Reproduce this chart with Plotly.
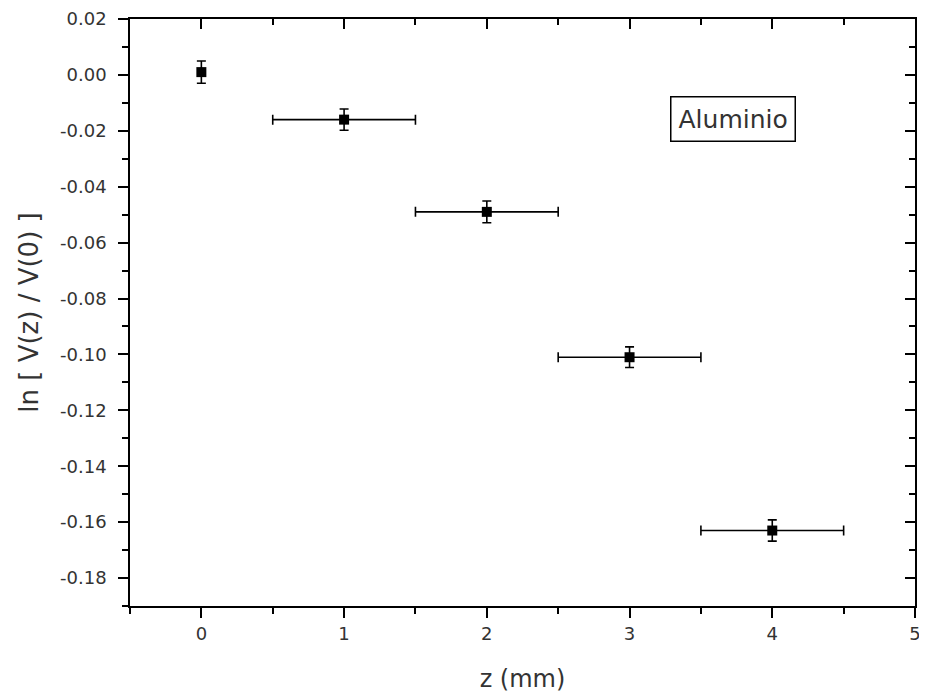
import plotly.graph_objects as go

z_mm = [0, 1, 2, 3, 4]
ln_ratio = [0.001, -0.016, -0.049, -0.101, -0.163]
y_err = [0.004, 0.0038, 0.0039, 0.0037, 0.0038]
x_err = [0.0, 0.5, 0.5, 0.5, 0.5]
x_ticks = [0, 1, 2, 3, 4, 5]
y_ticks = [0.02, 0.00, -0.02, -0.04, -0.06, -0.08, -0.10, -0.12, -0.14, -0.16, -0.18]
y_tick_text = ["%.2f" % v for v in y_ticks]
label = "Aluminio"

xr = [-0.5, 5]
yr = [-0.19, 0.02]
font_fam = "DejaVu Sans, Verdana, sans-serif"
txt_col = "#333333"
tick_font = dict(family=font_fam, size=18, color=txt_col)

fig = go.Figure()
fig.add_trace(go.Scatter(
    x=z_mm, y=ln_ratio, mode="markers",
    marker=dict(symbol="square", size=10, color="black"),
    error_y=dict(type="data", array=y_err, visible=True, color="black", thickness=1.6, width=4.5),
    error_x=dict(type="data", array=x_err, visible=True, color="black", thickness=1.6, width=5),
    showlegend=False,
))

axis_common = dict(showgrid=False, zeroline=False, showline=True, linecolor="black", linewidth=1.5,
                   automargin=False)

fig.update_layout(
    width=915, height=686,
    margin=dict(l=122, r=8, t=11, b=88),
    plot_bgcolor="white", paper_bgcolor="white",
    xaxis=dict(range=xr, tickvals=x_ticks, ticks="outside", ticklen=10, tickwidth=1.5,
               tickcolor="black", tickfont=tick_font, ticklabelstandoff=1,
               minor=dict(dtick=0.5, tick0=0, ticks="outside", ticklen=6, tickwidth=1.5, tickcolor="black"),
               title=dict(text="z (mm)", font=dict(family=font_fam, size=24, color=txt_col), standoff=27),
               **axis_common),
    yaxis=dict(range=yr, tickvals=y_ticks, ticktext=y_tick_text, ticks="outside", ticklen=10, tickwidth=1.5,
               tickcolor="black", tickfont=tick_font, ticklabelstandoff=8,
               minor=dict(dtick=0.01, tick0=0, ticks="outside", ticklen=6, tickwidth=1.5, tickcolor="black"),
               title=dict(text="ln [ V(z) / V(0) ]", font=dict(family=font_fam, size=26, color=txt_col), standoff=14),
               **axis_common),
    xaxis2=dict(range=xr, overlaying="x", side="top", anchor="y", tickvals=x_ticks, ticks="inside",
                ticklen=10, tickwidth=1.5, tickcolor="black", showticklabels=False,
                minor=dict(dtick=0.5, tick0=0, ticks="inside", ticklen=6, tickwidth=1.5, tickcolor="black"),
                **axis_common),
    yaxis2=dict(range=yr, overlaying="y", side="right", anchor="x", tickvals=y_ticks, ticks="inside",
                ticklen=10, tickwidth=1.5, tickcolor="black", showticklabels=False,
                minor=dict(dtick=0.01, tick0=0, ticks="inside", ticklen=6, tickwidth=1.5, tickcolor="black"),
                **axis_common),
)

# invisible trace so the mirror axes render
fig.add_trace(go.Scatter(x=[None], y=[None], xaxis="x2", yaxis="y2", showlegend=False, hoverinfo="skip"))

fig.add_annotation(
    x=3.725, y=-0.0156, xref="x", yref="y", text=label, showarrow=False,
    font=dict(family=font_fam, size=25, color=txt_col),
    bordercolor="black", borderwidth=1.5, borderpad=7, bgcolor="white",
)

fig.write_html("out.html")
